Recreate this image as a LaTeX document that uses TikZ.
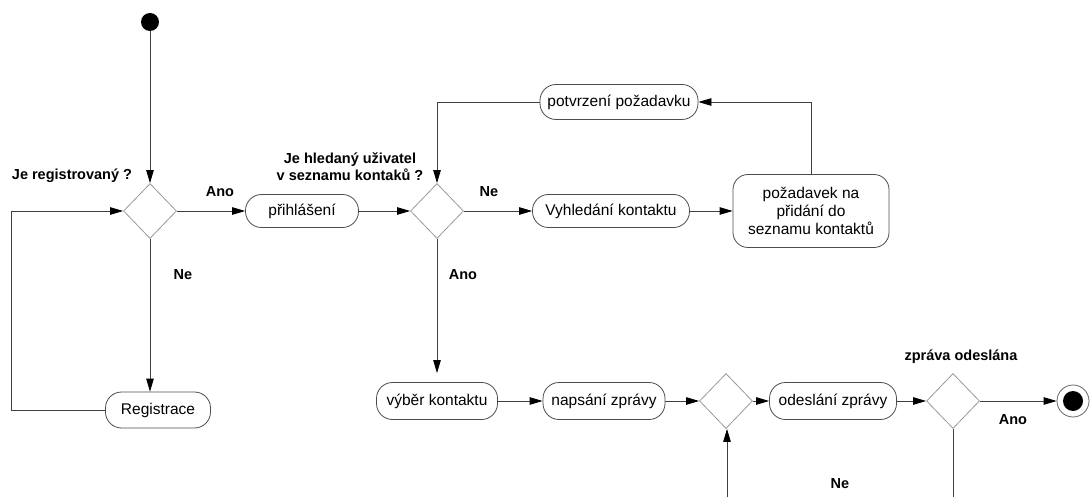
\documentclass[tikz,border=0pt]{standalone}
\usepackage{fontspec}
\setmainfont{Liberation Sans}
\usetikzlibrary{shapes.geometric,arrows.meta}

\tikzset{
  act/.style={draw=black!70, line width=0.8pt, rounded corners=16pt, inner sep=0pt,
    font=\fontsize{15.5}{18}\selectfont, text=black},
  decision/.style={draw=black!40, line width=0.8pt, diamond, inner sep=0pt,
    minimum width=53pt, minimum height=55pt},
  lbl/.style={font=\bfseries\fontsize{14.5}{17}\selectfont, inner sep=0pt, align=center},
  flow/.style={draw=black!75, line width=0.8pt,
    -{Triangle[length=13pt,width=7.5pt,color=black]}},
  line/.style={draw=black!75, line width=0.8pt},
}

\begin{document}
\begin{tikzpicture}[x=1pt,y=-1pt]
\useasboundingbox (0,0) rectangle (1090,497);
\clip (0,0) rectangle (1090,497);

% start and end markers
\node (start) [circle, fill=black, minimum size=18pt, inner sep=0pt] at (150,22) {};
\node (stop) [circle, draw=black!60, line width=0.8pt, minimum size=32pt, inner sep=0pt] at (1073,401) {};
\fill[black] (stop.center) circle (10pt);

% decisions
\node (d1) [decision] at (150,211) {};
\node (d2) [decision] at (437,211) {};
\node (d3) [decision] at (726,401) {};
\node (d4) [decision] at (953,401) {};

% activities
\node (login)   [act, minimum width=113pt, minimum height=33pt] at (302,211) {přihlášení};
\node (reg)     [act, minimum width=105pt, minimum height=36pt] at (158,410) {Registrace};
\node (search)  [act, minimum width=157pt, minimum height=33pt] at (611,211) {Vyhledání kontaktu};
\node (request) [act, rounded corners=15pt, minimum width=156pt, minimum height=73pt, align=center]
  at (811,211) {požadavek na\\přidání do\\seznamu kontaktů};
\node (confirm) [act, minimum width=158pt, minimum height=35pt] at (619,102) {potvrzení požadavku};
\node (select)  [act, minimum width=121pt, minimum height=37pt] at (437,401) {výběr kontaktu};
\node (write)   [act, minimum width=122pt, minimum height=37pt] at (604,401) {napsání zprávy};
\node (send)    [act, minimum width=127pt, minimum height=37pt] at (833,401) {odeslání zprávy};

% helper points for the loops
\coordinate (l1) at (11,211);
\coordinate (b1) at (953,540);
\coordinate (b2) at (727,540);

% connectors
\draw[flow] (start) -- (d1.north);
\draw[flow] (d1.east) -- (login.west);
\draw[flow] (d1.south) -- (reg.north -| d1.south);
\draw[line] (reg.west) -| (l1);
\draw[flow] (l1) -- (d1.west);
\draw[flow] (login.east) -- (d2.west);
\draw[flow] (confirm.west) -| (d2.north);
\draw[flow] (d2.east) -- (search.west);
\draw[flow] (search.east) -- (request.west);
\draw[flow] (request.north) |- (confirm.east);
\draw[flow, shorten >=9pt] (d2.south) -- (select.north);
\draw[flow] (select.east) -- (write.west);
\draw[flow] (write.east) -- (d3.west);
\draw[flow] (d3.east) -- (send.west);
\draw[flow] (send.east) -- (d4.west);
\draw[flow] (d4.east) -- (stop.west);
\draw[line] (d4.south) -- (b1) -- (b2);
\draw[flow] (b2) -- (d3.south -| b2);

% guard and question labels
\node (q1) [lbl] at (72,176) {Je registrovaný ?};
\node (a1) [lbl] at (220,192) {Ano};
\node (n1) [lbl] at (183,275) {Ne};
\node (q2) [lbl] at (350,167) {Je hledaný uživatel\\v seznamu kontaků ?};
\node (n2) [lbl] at (489,192) {Ne};
\node (a2) [lbl] at (463,275) {Ano};
\node (q3) [lbl] at (961,357) {zpráva odeslána};
\node (a3) [lbl] at (1013,420) {Ano};
\node (n3) [lbl] at (840,484) {Ne};
\end{tikzpicture}
\end{document}
